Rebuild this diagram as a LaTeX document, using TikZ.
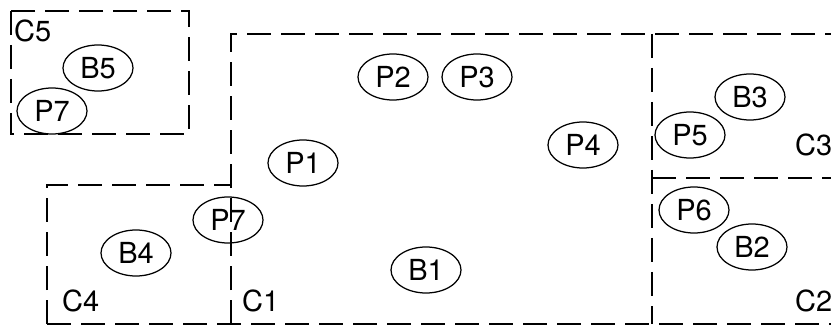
\documentclass[tikz,border=0pt]{standalone}
\usepackage{fontspec}
\setmainfont{TeX Gyre Heros}
\usetikzlibrary{shapes.geometric}
\begin{document}
\begin{tikzpicture}[x=1pt,y=-1pt,
  region/.style={draw, line width=1.4pt, dash pattern=on 24pt off 10pt},
  obj/.style={draw, ellipse, line width=1.25pt, minimum width=70pt, minimum height=46pt, inner sep=0pt, font=\fontsize{29}{29}\selectfont},
  lbl/.style={anchor=west, inner sep=0pt, font=\fontsize{29}{29}\selectfont}]
\useasboundingbox (0,0) rectangle (831,326);
% regions
\draw[region] (11,11) rectangle (189,134);
\draw[region] (231,324) -- (231,34) -- (840,34);
\draw[region] (652,34) -- (652,324);
\draw[region] (652,178) -- (840,178);
\draw[region] (47,324) -- (47,185) -- (231,185);
\draw[region] (47,324) -- (840,324);
% region labels
\node[lbl] (c5) at (14,31) {C5};
\node[lbl] (c4) at (62,301) {C4};
\node[lbl] (c1) at (242,301) {C1};
\node[lbl] (c3) at (795,145) {C3};
\node[lbl] (c2) at (795,301) {C2};
% objects
\node[obj] (b5) at (98,68) {B5};
\node[obj] (p7a) at (52,111) {P7};
\node[obj] (p2) at (393,77) {P2};
\node[obj] (p3) at (477,77) {P3};
\node[obj] (p4) at (583,145) {P4};
\node[obj] (p1) at (303,163) {P1};
\node[obj] (b1) at (426,270) {B1};
\node[obj] (p7b) at (228,220) {P7};
\node[obj] (b4) at (136,253) {B4};
\node[obj] (b3) at (750,97) {B3};
\node[obj] (p5) at (690,135) {P5};
\node[obj] (p6) at (694,210) {P6};
\node[obj] (b2) at (752,247) {B2};
\end{tikzpicture}
\end{document}
